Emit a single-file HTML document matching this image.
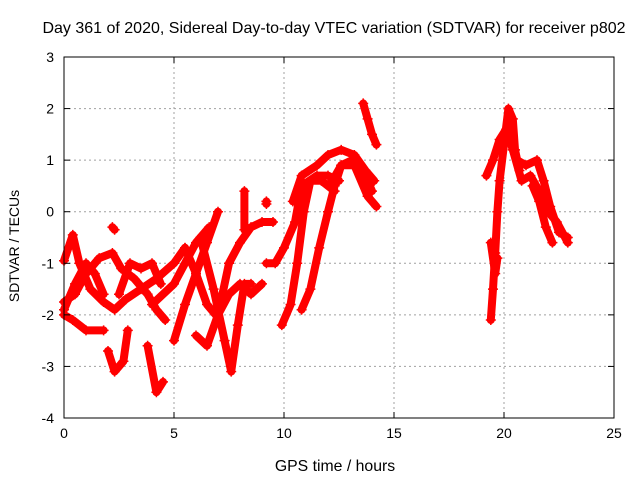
<!DOCTYPE html>
<html><head><meta charset="utf-8"><style>
body{margin:0;background:#fff}
text{font-family:"Liberation Sans",sans-serif;font-size:14px;fill:#000}
</style></head><body>
<svg id="chart" width="640" height="480" xmlns="http://www.w3.org/2000/svg">
<text x="334" y="33" text-anchor="middle" style="font-size:16px">Day 361 of 2020, Sidereal Day-to-day VTEC variation (SDTVAR) for receiver p802</text>
<g id="grid"></g>
<g id="series"></g>
<g id="axes"></g>
<text x="335" y="471" text-anchor="middle" style="font-size:15.8px">GPS time / hours</text>
<text transform="translate(19,246) rotate(-90)" text-anchor="middle">SDTVAR / TECUs</text>
</svg>
<script>
const xTicks=[0,5,10,15,20,25];
const yTicks=[-4,-3,-2,-1,0,1,2,3];
const tracks=[
[[0,-0.95],[0.4,-0.45],[0.7,-1.0],[1.2,-1.5],[1.8,-1.75],[2.3,-1.9],[2.8,-1.7],[3.5,-1.5],[4.2,-1.3],[5,-1.0],[5.5,-0.7]],
[[0,-1.75],[0.5,-1.6],[1.0,-1.2],[1.6,-0.9],[2.2,-0.8],[2.6,-1.1],[3.2,-1.3],[3.8,-1.6],[4.2,-1.9],[4.6,-2.1]],
[[0,-2.0],[0.4,-2.1],[1,-2.3],[1.8,-2.3]],
[[0,-1.9],[0.5,-1.4],[1,-1.0],[1.4,-1.2],[1.8,-1.6]],
[[2.2,-0.3],[2.3,-0.35]],
[[2.0,-2.7],[2.3,-3.1],[2.7,-2.9],[2.9,-2.3]],
[[3.8,-2.6],[4.2,-3.5],[4.5,-3.3]],
[[2.5,-1.6],[3,-1.0],[3.5,-1.1],[4,-1.0],[4.4,-1.4]],
[[5,-2.5],[5.5,-1.8],[6,-1.2],[6.5,-0.6],[7,0]],
[[4,-1.8],[5,-1.4],[6,-0.6],[6.6,-0.3]],
[[5.5,-0.7],[6,-1.2],[6.5,-1.8],[6.9,-2.0]],
[[6.2,-0.5],[6.8,-1.5],[7.3,-2.5],[7.6,-3.1],[7.9,-2.2],[8.2,-1.4],[8.5,-1.4]],
[[6,-2.4],[6.5,-2.6],[7,-2],[7.5,-1],[8,-0.6],[8.5,-0.3],[9,-0.2],[9.5,-0.2]],
[[7,-2],[7.5,-1.6],[8,-1.4],[8.5,-1.6],[9,-1.4]],
[[8.2,0.4],[8.2,-0.35]],
[[9.2,0.2],[9.2,0.15]],
[[9.2,-1.0],[9.6,-1.0],[10,-0.7],[10.5,-0.2],[10.8,0.5],[11.5,0.7],[12,0.7],[12.5,0.6]],
[[9.9,-2.2],[10.3,-1.8],[10.6,-1.0],[10.9,0],[11.2,0.6],[11.7,0.6],[12.3,0.4]],
[[10.8,-1.9],[11.2,-1.5],[11.6,-0.7],[12,0],[12.3,0.5],[12.6,0.9],[13.1,1.0],[13.7,0.7],[14.0,0.4]],
[[10.4,0.2],[10.8,0.7],[11.5,0.9],[12,1.1],[12.6,1.2],[13.2,1.1],[13.7,0.8],[14.1,0.6]],
[[12.2,0.6],[12.6,0.9],[13.2,0.9],[13.8,0.3],[14.2,0.1]],
[[13.6,2.1],[13.8,1.8],[14,1.5],[14.2,1.3]],
[[19.4,-2.1],[19.5,-1.5],[19.6,-0.8],[19.7,0],[19.8,0.6],[20,1.3],[20.2,2.0],[20.4,1.8],[20.5,1.2],[20.7,0.8]],
[[19.2,0.7],[19.5,1.0],[19.8,1.4],[20.1,1.6],[20.4,1.2],[20.8,0.6],[21.2,0.7],[21.6,0.4],[22,0],[22.4,-0.2],[22.9,-0.6]],
[[20.6,1.0],[21,0.9],[21.5,1.0],[21.8,0.6],[22.1,0.1],[22.5,-0.4],[22.9,-0.5]],
[[21.3,0.5],[21.6,0.2],[21.9,-0.3],[22.2,-0.6]],
[[19.4,-0.6],[19.6,-1.2],[19.7,-0.9]]
];
const L=64,R=614,T=57,B=418;
const sx=h=>L+(h-0)/(25-0)*(R-L);
const sy=v=>B-(v+4)/(3+4)*(B-T);
const NS="http://www.w3.org/2000/svg";
function mk(tag,attrs,parent){const e=document.createElementNS(NS,tag);for(const k in attrs)e.setAttribute(k,attrs[k]);parent.appendChild(e);return e;}
const grid=document.getElementById('grid'),axes=document.getElementById('axes'),series=document.getElementById('series');
xTicks.forEach(t=>{
 if(t>0&&t<25){const g=mk('line',{x1:sx(t),x2:sx(t),y1:T,y2:B,stroke:'#a0a0a0','stroke-dasharray':'2,3'},grid);
 
 }
 mk('line',{x1:sx(t),x2:sx(t),y1:B,y2:B-6,stroke:'#000'},axes);
 mk('line',{x1:sx(t),x2:sx(t),y1:T,y2:T+6,stroke:'#000'},axes);
 const lb=mk('text',{x:sx(t),y:B+20,'text-anchor':'middle'},axes);lb.textContent=t;
 
 
});
yTicks.forEach(t=>{
 if(t>-4&&t<3){const g=mk('line',{x1:L,x2:R,y1:sy(t),y2:sy(t),stroke:'#a0a0a0','stroke-dasharray':'2,3'},grid);
 
 }
 mk('line',{x1:L,x2:L+6,y1:sy(t),y2:sy(t),stroke:'#000'},axes);
 mk('line',{x1:R,x2:R-6,y1:sy(t),y2:sy(t),stroke:'#000'},axes);
 const lb=mk('text',{x:L-10,y:sy(t)+5,'text-anchor':'end'},axes);lb.textContent=t;
 
 
});
const bd=mk('rect',{x:L,y:T,width:R-L,height:B-T,fill:'none',stroke:'#000','stroke-width':1},axes);


tracks.forEach(tr=>{
 const pl=mk('polyline',{points:tr.map(p=>sx(p[0])+','+sy(p[1])).join(' '),fill:'none',stroke:'#f00','stroke-width':8,'stroke-linejoin':'round','stroke-linecap':'round'},series);
 
 
 tr.forEach(p=>{
  const x=sx(p[0]),y=sy(p[1]);
  const m=mk('path',{d:`M${x-5},${y}H${x+5}M${x},${y-5}V${y+5}`,stroke:'#f00','stroke-width':1.5},series);
  
  
 });
});
</script>
</body></html>
